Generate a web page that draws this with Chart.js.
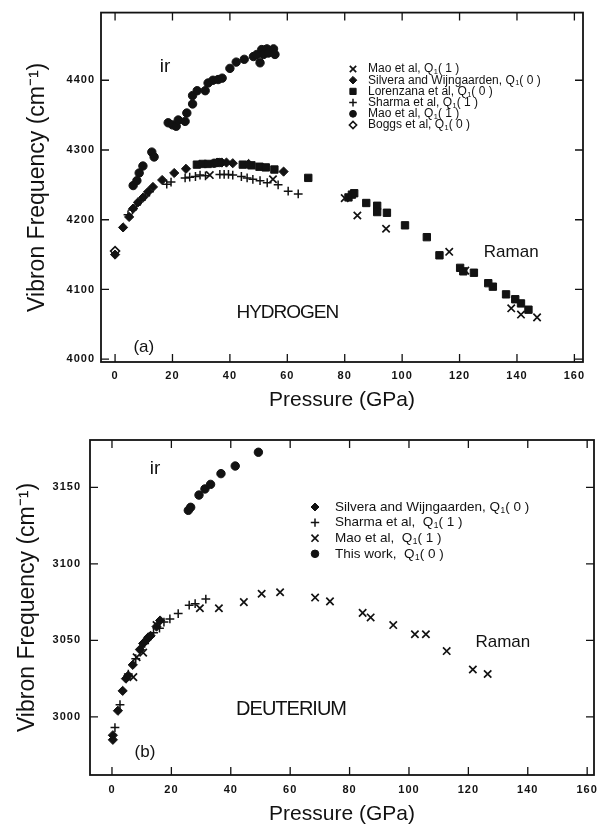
<!DOCTYPE html>
<html><head><meta charset="utf-8">
<script src="https://cdn.jsdelivr.net/npm/chart.js@4.4.1/dist/chart.umd.min.js"></script>
<style>
html,body{margin:0;padding:0;background:#fff;}
body{width:607px;height:827px;position:relative;overflow:hidden;}
canvas{position:absolute;left:0;}
#c1{top:0}
#c2{top:420px}
</style></head><body>
<canvas id="c1" width="607" height="420"></canvas>
<canvas id="c2" width="607" height="407"></canvas>
<script>
// ---------- tick labels ----------
const P_TICKS = [0, 20, 40, 60, 80, 100, 120, 140, 160];
const H_FREQ_TICKS = [4000, 4100, 4200, 4300, 4400];
const D_FREQ_TICKS = [3000, 3050, 3100, 3150];

// ---------- (a) HYDROGEN ----------
const H_MAOX_P = [33, 55, 80, 84.4, 94.4, 116.4, 122, 138, 141.4, 147];
const H_MAOX_F = [4264, 4258, 4231, 4206, 4187, 4154, 4127, 4073, 4064, 4060];

const H_SILV_P = [0, 2.8, 4.9, 6.3, 8, 9.8, 11.5, 13.2, 16.4, 20.6, 24.7, 35.5, 37.2, 38.8, 41, 46.5, 58.7];
const H_SILV_F = [4150, 4189, 4204, 4216, 4225, 4232, 4240, 4247, 4257, 4267, 4273, 4282, 4282, 4282, 4281, 4280, 4269];

const H_LOR_P = [28.5, 30.5, 32.3, 44.5, 47.5, 50.3, 52.5, 55.5, 67.3, 81.3, 82.5, 83.3, 87.5, 91.3, 91.3, 94.7, 101, 108.6, 113, 120.2, 121.3, 125, 130, 131.6, 136.2, 139.4, 141.4, 144];
const H_LOR_F = [4279, 4280, 4280, 4279, 4278, 4276, 4275, 4272, 4260, 4232, 4236, 4238, 4224, 4220, 4211, 4210, 4192, 4175, 4149, 4131, 4126, 4124, 4109, 4104, 4093, 4086, 4080, 4071];

const H_SHAR_P = [4.5, 6, 7.5, 9, 10.5, 12, 18, 19.5, 24.4, 26, 28, 29.6, 31.5, 36.5, 38, 39.5, 41, 44, 46, 48, 50.5, 53, 56.8, 60.3, 63.8];
const H_SHAR_F = [4207, 4214, 4221, 4228, 4234, 4240, 4251, 4254, 4260, 4261, 4262, 4264, 4263, 4265, 4265, 4265, 4264, 4262, 4260, 4258, 4256, 4253, 4250, 4241, 4237];

const H_MAOC_P = [6.3, 7.6, 8.4, 9.7, 12.8, 13.6, 34.5, 36.3, 18.5, 20, 21.3, 22, 24.4, 25, 27, 27, 28.6, 31.4, 32.4, 34.1, 35.9, 37.3, 40, 42.2, 45, 48.2, 50.5, 49.4, 51.1, 51.7, 52.9, 53.4, 55.2, 55.7];
const H_MAOC_F = [4249, 4256, 4267, 4277, 4297, 4290, 4281, 4282, 4339, 4336, 4334, 4343, 4341, 4353, 4366, 4378, 4385, 4385, 4396, 4400, 4401, 4403, 4417, 4426, 4430, 4434, 4425, 4437, 4444, 4437, 4445, 4439, 4445, 4437];

const H_BOGGS_P = [0];
const H_BOGGS_F = [4155];

// ---------- (b) DEUTERIUM ----------
const D_SILV_P = [0.3, 0.3, 2, 3.6, 4.7, 5.5, 7, 9.4, 10.5, 11.5, 12.2, 13, 15, 16.2];
const D_SILV_F = [2988, 2985, 3004, 3017, 3025, 3027, 3034, 3044, 3048, 3050, 3052, 3053, 3059, 3063];
const D_SHAR_P = [1, 2.7, 5.5, 8, 11, 14, 16, 17.5, 19.5, 22.3, 26, 28, 31.6];
const D_SHAR_F = [2993, 3008, 3028, 3038, 3048, 3055, 3058, 3062, 3064, 3067.5, 3073, 3074, 3077];
const D_MAO_P = [7.2, 8.3, 10.5, 15, 29.6, 36, 44.4, 50.4, 56.6, 68.4, 73.4, 84.4, 87.1, 94.7, 102, 105.7, 112.7, 121.5, 126.5];
const D_MAO_F = [3026, 3039, 3042, 3060, 3071, 3071, 3075, 3080.5, 3081.5, 3078, 3075.5, 3068, 3065, 3060, 3054, 3054, 3043, 3031, 3028];
const D_THIS_P = [25.7, 26.5, 29.3, 31.3, 33.2, 36.7, 41.5, 49.3];
const D_THIS_F = [3135, 3137, 3145, 3149, 3152, 3159, 3164, 3173];

// ---------- labels ----------
const H_LEGEND = ['Mao et al, Q₁( 1 )', 'Silvera and Wijngaarden, Q₁( 0 )', 'Lorenzana et al, Q₁( 0 )', 'Sharma et al, Q₁( 1 )', 'Mao et al, Q₁( 1 )', 'Boggs et al, Q₁( 0 )'];
const D_LEGEND = ['Silvera and Wijngaarden, Q₁( 0 )', 'Sharma et al,  Q₁( 1 )', 'Mao et al,  Q₁( 1 )', 'This work,  Q₁( 0 )'];
const X_TITLE = 'Pressure (GPa)';
const Y_TITLE = 'Vibron Frequency (cm⁻¹)';

// ---------- styling ----------
const INK = '#121212';
const FAM = '"Liberation Sans", Arial, Helvetica, sans-serif';

function pts(xs, ys) { return xs.map((x, i) => ({ x: x, y: ys[i] })); }

const STY = {
  x:    { pointStyle: 'crossRot', radius: 5.2, borderWidth: 1.7, fill: INK },
  dia:  { pointStyle: 'rectRot',  radius: 4.6, borderWidth: 1,   fill: INK },
  sq:   { pointStyle: 'rect',     radius: 5.2, borderWidth: 1,   fill: INK },
  plus: { pointStyle: 'cross',    radius: 4.4, borderWidth: 1.5, fill: INK },
  dot:  { pointStyle: 'circle',   radius: 4.2, borderWidth: 1,   fill: INK },
  odia: { pointStyle: 'rectRot',  radius: 4.5, borderWidth: 1.6, fill: '#ffffff' }
};

function ds(label, xs, ys, st) {
  return {
    label: label, data: pts(xs, ys),
    pointStyle: st.pointStyle, pointRadius: st.radius, pointBorderWidth: st.borderWidth,
    pointBackgroundColor: st.fill, pointBorderColor: INK,
    backgroundColor: st.fill, borderColor: INK, showLine: false
  };
}

function richText(ctx, str, x, y, size) {
  const parts = str.split('₁');
  let cx = x;
  parts.forEach((p, i) => {
    ctx.font = size + 'px ' + FAM;
    ctx.fillText(p, cx, y);
    cx += ctx.measureText(p).width;
    if (i < parts.length - 1) {
      ctx.font = (size * 0.62).toFixed(1) + 'px ' + FAM;
      ctx.fillText('1', cx + 0.5, y + size * 0.26);
      cx += ctx.measureText('1').width + 0.5;
    }
  });
}

function marker(ctx, st, r, x, y) {
  ctx.save();
  ctx.fillStyle = st.fill; ctx.strokeStyle = INK; ctx.lineWidth = st.borderWidth;
  if (Chart.helpers && Chart.helpers.drawPoint) {
    Chart.helpers.drawPoint(ctx, { pointStyle: st.pointStyle, radius: r, rotation: 0, borderWidth: st.borderWidth }, x, y);
  }
  ctx.restore();
}

function decorPlugin(cfg) {
  return {
    id: 'decor',
    beforeDraw(chart) { chart.ctx.letterSpacing = '0px'; },
    afterDatasetsDraw(chart) {
      const ctx = chart.ctx, a = chart.chartArea;
      const xs = chart.scales.x, ys = chart.scales.y;
      ctx.save();
      // frame
      ctx.strokeStyle = INK; ctx.lineWidth = 1.8;
      ctx.strokeRect(a.left, a.top, a.right - a.left, a.bottom - a.top);
      // inward ticks on all four sides
      ctx.lineWidth = 1.3;
      const L = 8;
      ctx.beginPath();
      xs.ticks.forEach(t => {
        const px = xs.getPixelForValue(t.value);
        ctx.moveTo(px, a.bottom); ctx.lineTo(px, a.bottom - L);
        ctx.moveTo(px, a.top); ctx.lineTo(px, a.top + L);
      });
      ys.ticks.forEach(t => {
        const py = ys.getPixelForValue(t.value);
        ctx.moveTo(a.left, py); ctx.lineTo(a.left + L, py);
        ctx.moveTo(a.right, py); ctx.lineTo(a.right - L, py);
      });
      ctx.stroke();
      // annotations (anchored in data coordinates)
      ctx.fillStyle = INK; ctx.textBaseline = 'middle'; ctx.textAlign = 'center';
      cfg.annots.forEach(n => {
        ctx.font = n.font;
        ctx.letterSpacing = n.ls || '0px';
        ctx.fillText(n.text, xs.getPixelForValue(n.x), ys.getPixelForValue(n.y));
      });
      ctx.letterSpacing = '0px';
      // legend
      ctx.textAlign = 'left';
      const lg = cfg.legend;
      lg.items.forEach((it, i) => {
        const y = lg.y + i * lg.dy;
        marker(ctx, it.st, it.r, lg.mx, y);
        ctx.fillStyle = INK;
        richText(ctx, it.text, lg.tx, y, lg.size);
      });
      ctx.restore();
      ctx.letterSpacing = '1px'; // for tick labels drawn on the upper layer
    },
    afterDraw(chart) { chart.ctx.letterSpacing = '0px'; }
  };
}

function makeScales(o) {
  const tickFont = { family: FAM, size: 11, weight: 'bold' };
  return {
    x: {
      type: 'linear', min: o.xmin, max: o.xmax,
      afterFit(s) { s.height = o.xh; },
      afterBuildTicks(s) { s.ticks = P_TICKS.map(v => ({ value: v })); },
      ticks: { autoSkip: false, maxRotation: 0, padding: o.xpad, font: tickFont, color: INK, z: 1,
               callback: v => String(v) },
      grid: { display: false, drawTicks: false },
      border: { display: false },
      title: { display: true, text: X_TITLE, color: INK, font: { family: FAM, size: 21 }, padding: { top: 0, bottom: o.xtb } }
    },
    y: {
      type: 'linear', min: o.ymin, max: o.ymax,
      afterFit(s) { s.width = o.yw; },
      afterBuildTicks(s) { s.ticks = o.yticks.map(v => ({ value: v })); },
      ticks: { padding: o.ypad, font: tickFont, color: INK, z: 1, callback: v => String(v) },
      grid: { display: false, drawTicks: false },
      border: { display: false },
      title: { display: true, text: Y_TITLE, color: INK, font: { family: FAM, size: 23 }, padding: { top: o.ytp, bottom: 0 } }
    }
  };
}

const common = {
  responsive: false, animation: false, devicePixelRatio: 1, events: [],
  plugins: { legend: { display: false }, tooltip: { enabled: false } }
};

// ---------- chart (a) ----------
new Chart(document.getElementById('c1'), {
  type: 'scatter',
  data: {
    datasets: [
      ds(H_LEGEND[0], H_MAOX_P, H_MAOX_F, STY.x),
      ds(H_LEGEND[1], H_SILV_P, H_SILV_F, STY.dia),
      ds(H_LEGEND[2], H_LOR_P, H_LOR_F, STY.sq),
      ds(H_LEGEND[3], H_SHAR_P, H_SHAR_F, STY.plus),
      ds(H_LEGEND[4], H_MAOC_P, H_MAOC_F, STY.dot),
      ds(H_LEGEND[5], H_BOGGS_P, H_BOGGS_F, STY.odia)
    ]
  },
  options: Object.assign({}, common, {
    layout: { padding: { left: 0, top: 11, right: 24, bottom: 3 } },
    scales: makeScales({ xmin: -4.9, xmax: 163, xh: 55, xpad: 7, xtb: 4,
                         ymin: 3996, ymax: 4497, yw: 101, ypad: 6, ytp: 24, yticks: H_FREQ_TICKS })
  }),
  plugins: [decorPlugin({
    annots: [
      { text: 'ir', x: 17.4, y: 4420, font: '19px ' + FAM },
      { text: 'HYDROGEN', x: 60, y: 4067, font: '19px ' + FAM, ls: '-1px' },
      { text: 'Raman', x: 138, y: 4153, font: '17px ' + FAM },
      { text: '(a)', x: 10, y: 4017, font: '17px ' + FAM }
    ],
    legend: {
      mx: 353, tx: 368, y: 69, dy: 11.2, size: 12,
      items: [
        { st: STY.x, r: 4.5, text: H_LEGEND[0] },
        { st: STY.dia, r: 3.8, text: H_LEGEND[1] },
        { st: STY.sq, r: 4.4, text: H_LEGEND[2] },
        { st: STY.plus, r: 3.8, text: H_LEGEND[3] },
        { st: STY.dot, r: 3.4, text: H_LEGEND[4] },
        { st: STY.odia, r: 3.6, text: H_LEGEND[5] }
      ]
    }
  })]
});

// ---------- chart (b) ----------
new Chart(document.getElementById('c2'), {
  type: 'scatter',
  data: {
    datasets: [
      ds(D_LEGEND[0], D_SILV_P, D_SILV_F, STY.dia),
      ds(D_LEGEND[1], D_SHAR_P, D_SHAR_F, STY.plus),
      ds(D_LEGEND[2], D_MAO_P, D_MAO_F, STY.x),
      ds(D_LEGEND[3], D_THIS_P, D_THIS_F, STY.dot)
    ]
  },
  options: Object.assign({}, common, {
    layout: { padding: { left: 0, top: 20, right: 13, bottom: 0 } },
    scales: makeScales({ xmin: -7.4, xmax: 162.3, xh: 52, xpad: 8, xtb: 0,
                         ymin: 2962, ymax: 3181, yw: 90, ypad: 9, ytp: 14, yticks: D_FREQ_TICKS })
  }),
  plugins: [decorPlugin({
    annots: [
      { text: 'ir', x: 14.5, y: 3162, font: '19px ' + FAM },
      { text: 'DEUTERIUM', x: 60.3, y: 3004.6, font: '20px ' + FAM, ls: '-1px' },
      { text: 'Raman', x: 131.6, y: 3048.5, font: '17px ' + FAM },
      { text: '(b)', x: 11.1, y: 2977, font: '17px ' + FAM }
    ],
    legend: {
      mx: 315, tx: 335, y: 87, dy: 15.6, size: 13.5,
      items: [
        { st: STY.dia, r: 4, text: D_LEGEND[0] },
        { st: STY.plus, r: 4.2, text: D_LEGEND[1] },
        { st: STY.x, r: 5, text: D_LEGEND[2] },
        { st: STY.dot, r: 3.8, text: D_LEGEND[3] }
      ]
    }
  })]
});
</script>
</body></html>
